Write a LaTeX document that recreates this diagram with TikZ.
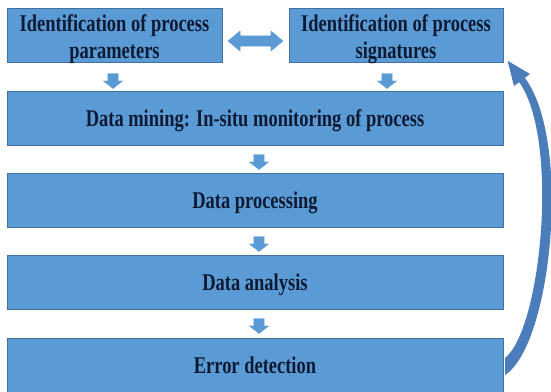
\documentclass[tikz,border=0pt]{standalone}
\usepackage{fontspec}
\setmainfont{Liberation Serif}[FakeStretch=0.77]
\usetikzlibrary{shapes.arrows}
\definecolor{boxfill}{HTML}{5B9BD5}
\definecolor{boxline}{HTML}{41719C}
\definecolor{ink}{HTML}{0E1A33}
\definecolor{loopblue}{HTML}{4A7DBA}
\begin{document}
\begin{tikzpicture}[x=1pt,y=-1pt,
  stage/.style={draw=boxline, line width=0.8pt, fill=boxfill, inner sep=0pt,
    minimum height=54pt},
  caption/.style={text=ink, font=\fontsize{24}{27}\selectfont\bfseries,
    align=center, inner sep=0pt},
  oneline/.style={caption, text height=19pt, text depth=3pt},
  downarrow/.style={single arrow, fill=boxfill, draw=boxfill, line width=0.3pt,
    rotate=-90, minimum height=15pt, minimum width=19pt, inner xsep=0pt,
    inner ysep=5pt, single arrow head extend=4.5pt, single arrow tip angle=104},
  linkarrow/.style={double arrow, fill=boxfill, draw=boxfill, line width=0.3pt,
    minimum height=55pt, minimum width=20pt, inner xsep=0pt, inner ysep=5pt,
    double arrow head extend=5pt, double arrow tip angle=80}]

% canvas
\useasboundingbox (0,0) rectangle (551,391);

% top row: the two identification steps
\node[stage, minimum width=215pt] (par) at (114.5,35) {};
\node[caption] (parT) at ([yshift=-4pt]par.center) {Identification of process\\parameters};
\node[stage, minimum width=214pt] (sig) at (396,35) {};
\node[caption] (sigT) at ([yshift=-4pt]sig.center) {Identification of process\\signatures};

% full-width process stages
\node[stage, minimum width=496pt, oneline] (dm) at (255,118) {Data mining: In-situ monitoring of process};
\node[stage, minimum width=496pt, oneline] (dp) at (255,200) {Data processing};
\node[stage, minimum width=496pt, oneline] (da) at (255,282) {Data analysis};
\node[stage, minimum width=496pt, oneline] (ed) at (255,365) {Error detection};

% two-way link between the identification steps
\node[linkarrow] (link) at (255.5,41) {};

% flow arrows
\node[downarrow] (a1) at (113,79) {};
\node[downarrow] (a2) at (387,79) {};
\node[downarrow] (a3) at (259,160) {};
\node[downarrow] (a4) at (259,242) {};
\node[downarrow] (a5) at (259,324) {};

% feedback loop from error detection back to the signatures
\fill[loopblue] (505,375) .. controls (552,345) and (572,140) .. (524.8,77.9)
  -- (530,74) -- (507.6,60.8) -- (514,86) -- (519.2,82.1)
  .. controls (560,140) and (541,330) .. (505,358) -- cycle;
\end{tikzpicture}
\end{document}
